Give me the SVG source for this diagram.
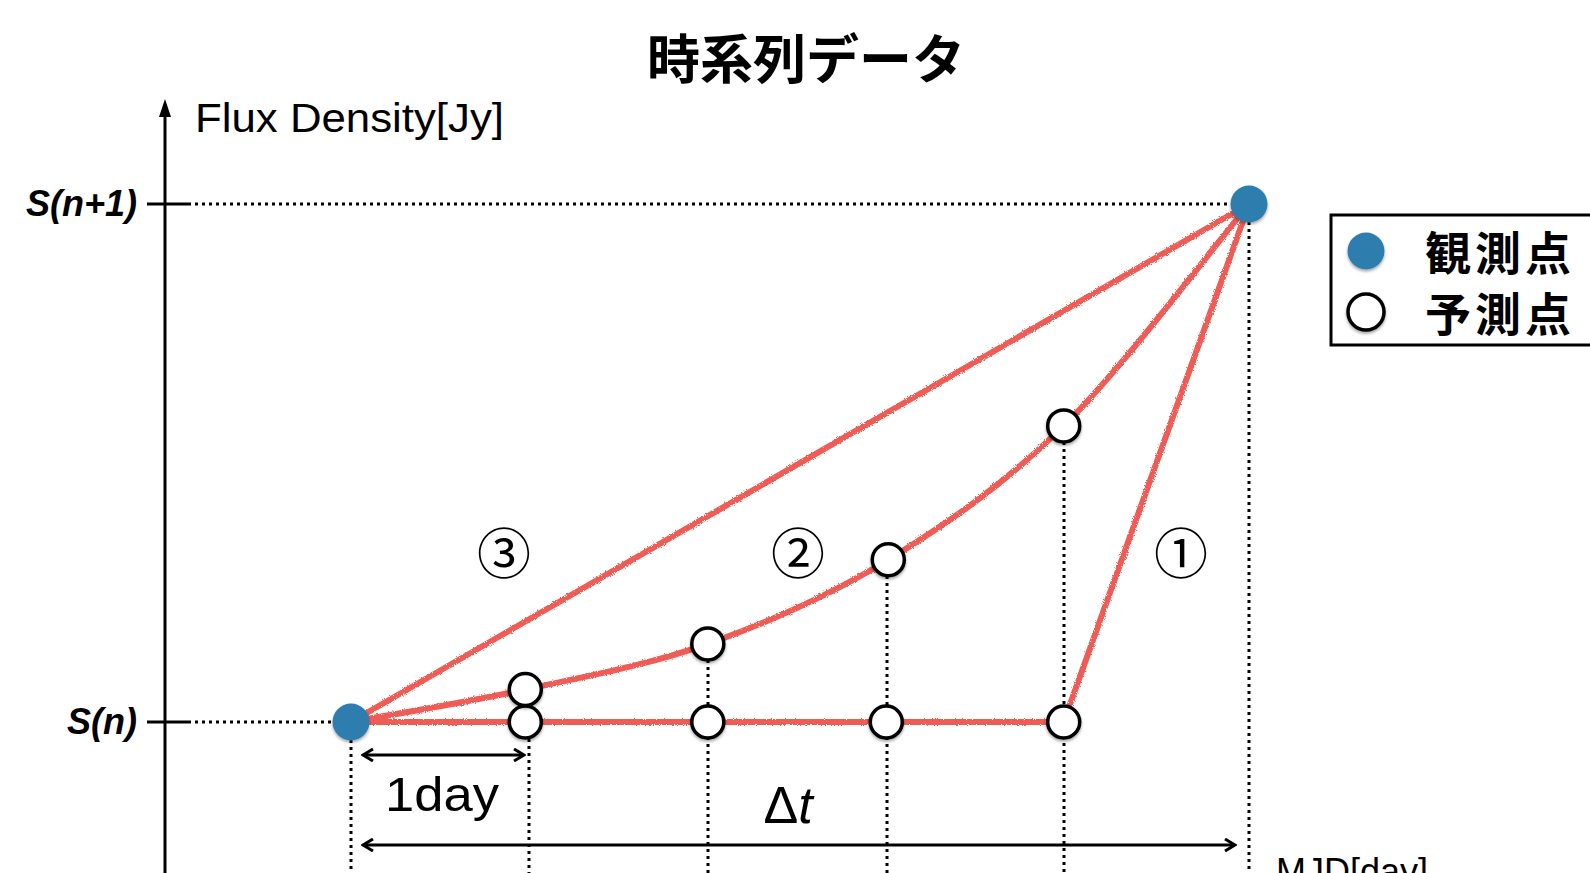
<svg xmlns="http://www.w3.org/2000/svg" width="1590" height="873" viewBox="0 0 1590 873">
<style>
.axis{stroke:#000;stroke-width:3;fill:none}
.dot{stroke:#000;stroke-width:3;stroke-dasharray:3 4;fill:none}
.red{stroke:#EE5B55;stroke-width:6;fill:none;stroke-linecap:round;stroke-linejoin:round;filter:url(#rough)}
.obs{fill:#2E7DAF;filter:url(#sh)}
.pred{fill:#fff;stroke:#000;stroke-width:3.5;filter:url(#sh)}
.lbl{font-family:"Liberation Sans","Noto Sans",sans-serif;fill:#000}
.jp{font-family:"Noto Sans CJK JP",sans-serif;font-weight:bold;fill:#000}
.arr{stroke:#000;stroke-width:3;fill:none;marker-end:url(#ah);marker-start:url(#ahs)}
</style>
<defs>
<filter id="rough" x="-5%" y="-5%" width="110%" height="110%">
<feTurbulence type="fractalNoise" baseFrequency="0.9" numOctaves="2" seed="3"/>
<feDisplacementMap in="SourceGraphic" scale="3"/>
</filter>
<filter id="sh" x="-30%" y="-30%" width="160%" height="160%">
<feDropShadow dx="0" dy="2" stdDeviation="1.5" flood-opacity="0.35"/>
</filter>
<marker id="ah" markerWidth="14" markerHeight="14" refX="12" refY="7" orient="auto" markerUnits="userSpaceOnUse">
<path d="M2,1 L12,7 L2,13" fill="none" stroke="#000" stroke-width="3"/>
</marker>
<marker id="ahs" markerWidth="14" markerHeight="14" refX="2" refY="7" orient="auto" markerUnits="userSpaceOnUse">
<path d="M12,1 L2,7 L12,13" fill="none" stroke="#000" stroke-width="3"/>
</marker>
</defs>
<rect width="1590" height="873" fill="#fff"/>

<g id="title"><text class="jp" x="806" y="79" font-size="53" text-anchor="middle">時系列データ</text></g>

<g id="axes">
<line class="axis" x1="165" y1="112" x2="165" y2="873"/>
<path d="M165,99 L159,117 L171,117 Z" fill="#000"/>
<text class="lbl" x="195" y="132" font-size="40" textLength="309" lengthAdjust="spacingAndGlyphs">Flux Density[Jy]</text>
<line class="axis" x1="147" y1="204" x2="188" y2="204"/>
<line class="axis" x1="147" y1="722" x2="188" y2="722"/>
<text class="lbl" x="137" y="216" font-size="36" font-weight="bold" font-style="italic" text-anchor="end">S(n+1)</text>
<text class="lbl" x="137" y="734" font-size="36" font-weight="bold" font-style="italic" text-anchor="end">S(n)</text>
<text class="lbl" x="1276" y="884" font-size="36">MJD[day]</text>
</g>

<g id="guides">
<line class="dot" x1="188" y1="204" x2="1232" y2="204"/>
<line class="dot" x1="188" y1="722" x2="332" y2="722"/>
<line class="dot" x1="351" y1="740" x2="351" y2="873"/>
<line class="dot" x1="529" y1="739" x2="529" y2="873"/>
<line class="dot" x1="708" y1="660" x2="708" y2="873"/>
<line class="dot" x1="887" y1="576" x2="887" y2="873"/>
<line class="dot" x1="1064" y1="442" x2="1064" y2="873"/>
<line class="dot" x1="1249" y1="222" x2="1249" y2="873"/>
</g>

<g id="connectors">
<line class="red" x1="351" y1="722" x2="1249" y2="204"/>
<path class="red" d="M351,722 C379.9,716.6 465.8,702.5 525.3,689.5 C584.8,676.5 647.3,665.5 707.8,643.9 C768.3,622.3 829,596 888.3,559.7 C947.6,523.4 1003.5,485.2 1063.7,425.9 C1123.9,366.6 1218.3,240.8 1249.2,203.8"/>
<path class="red" d="M351,722 L1063.7,722 L1249.2,203.8"/>
<line class="arr" x1="363" y1="755" x2="524" y2="755"/>
<line class="arr" x1="363" y1="845" x2="1235" y2="845"/>
</g>

<g id="n-obs1"><circle class="obs" cx="351" cy="722" r="18.5"/></g>
<g id="n-obs2"><circle class="obs" cx="1249" cy="204" r="18.5"/></g>
<g id="n-p1"><circle class="pred" cx="525.3" cy="722" r="16"/></g>
<g id="n-p2"><circle class="pred" cx="525.3" cy="689.5" r="16"/></g>
<g id="n-p3"><circle class="pred" cx="707.8" cy="722" r="16"/></g>
<g id="n-p4"><circle class="pred" cx="707.8" cy="643.9" r="16"/></g>
<g id="n-p5"><circle class="pred" cx="886.3" cy="722" r="16"/></g>
<g id="n-p6"><circle class="pred" cx="888.3" cy="559.7" r="16"/></g>
<g id="n-p7"><circle class="pred" cx="1063.7" cy="722" r="16"/></g>
<g id="n-p8"><circle class="pred" cx="1063.7" cy="425.9" r="16"/></g>

<g id="labels">
<text x="504" y="574" font-size="54" text-anchor="middle" font-family="'Noto Sans CJK JP',sans-serif">③</text>
<text x="798" y="574" font-size="54" text-anchor="middle" font-family="'Noto Sans CJK JP',sans-serif">②</text>
<text x="1181" y="574" font-size="54" text-anchor="middle" font-family="'Noto Sans CJK JP',sans-serif">①</text>
<text class="lbl" x="385" y="811" font-size="48" textLength="114" lengthAdjust="spacingAndGlyphs">1day</text>
<text class="lbl" x="788" y="823" font-size="52" text-anchor="middle">Δ<tspan font-style="italic">t</tspan></text>
</g>

<g id="legend">
<rect x="1331" y="215" width="270" height="130" fill="#fff" stroke="#000" stroke-width="3"/>
<circle class="obs" cx="1366" cy="251" r="18.5"/>
<circle class="pred" cx="1366" cy="312" r="18"/>
<text class="jp" x="1425" y="270" font-size="46" letter-spacing="4">観測点</text>
<text class="jp" x="1425" y="331" font-size="46" letter-spacing="4">予測点</text>
</g>
</svg>
